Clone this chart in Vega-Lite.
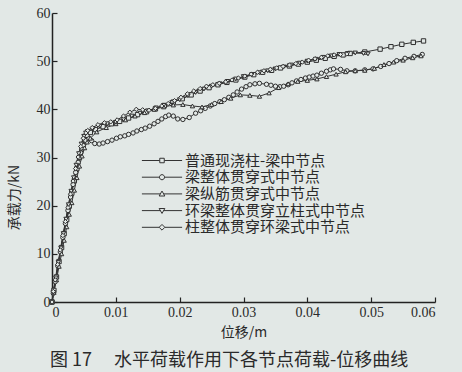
{
  "$schema": "https://vega.github.io/schema/vega-lite/v6.json",
  "width": 383,
  "height": 289,
  "autosize": "none",
  "padding": {"left": 52, "top": 13, "right": 27, "bottom": 70},
  "background": "#e2e8e6",
  "config": {"view": {"stroke": null}, "font": "Liberation Serif"},
  "title": {
    "text": "图 17 \u3000水平荷载作用下各节点荷载-位移曲线",
    "orient": "bottom",
    "anchor": "start",
    "frame": "group",
    "font": "Noto Sans CJK SC",
    "fontSize": 18,
    "fontWeight": "normal",
    "color": "#2a2a2a",
    "offset": 13,
    "dx": -2
  },
  "datasets": {
    "curves": [
      {"s":"普通现浇柱-梁中节点","x":0,"y":0},{"s":"普通现浇柱-梁中节点","x":0.0003,"y":2.4},{"s":"普通现浇柱-梁中节点","x":0.0007,"y":5.2},{"s":"普通现浇柱-梁中节点","x":0.0011,"y":8.4},{"s":"普通现浇柱-梁中节点","x":0.0015,"y":11.3},{"s":"普通现浇柱-梁中节点","x":0.0019,"y":14.2},{"s":"普通现浇柱-梁中节点","x":0.0023,"y":17.1},{"s":"普通现浇柱-梁中节点","x":0.0027,"y":19.9},{"s":"普通现浇柱-梁中节点","x":0.0031,"y":22.6},{"s":"普通现浇柱-梁中节点","x":0.0035,"y":25.2},{"s":"普通现浇柱-梁中节点","x":0.0039,"y":27.7},{"s":"普通现浇柱-梁中节点","x":0.0043,"y":30.0},{"s":"普通现浇柱-梁中节点","x":0.0047,"y":32.0},{"s":"普通现浇柱-梁中节点","x":0.0051,"y":33.7},{"s":"普通现浇柱-梁中节点","x":0.0055,"y":34.6},{"s":"普通现浇柱-梁中节点","x":0.0060,"y":35.2},{"s":"普通现浇柱-梁中节点","x":0.0068,"y":35.8},{"s":"普通现浇柱-梁中节点","x":0.0080,"y":36.4},{"s":"普通现浇柱-梁中节点","x":0.0093,"y":37.0},{"s":"普通现浇柱-梁中节点","x":0.0106,"y":37.5},{"s":"普通现浇柱-梁中节点","x":0.0120,"y":38.2},{"s":"普通现浇柱-梁中节点","x":0.0134,"y":38.9},{"s":"普通现浇柱-梁中节点","x":0.0148,"y":39.5},{"s":"普通现浇柱-梁中节点","x":0.0162,"y":40.1},{"s":"普通现浇柱-梁中节点","x":0.0176,"y":40.8},{"s":"普通现浇柱-梁中节点","x":0.0190,"y":41.5},{"s":"普通现浇柱-梁中节点","x":0.0204,"y":42.2},{"s":"普通现浇柱-梁中节点","x":0.0218,"y":43.0},{"s":"普通现浇柱-梁中节点","x":0.0232,"y":43.8},{"s":"普通现浇柱-梁中节点","x":0.0246,"y":44.5},{"s":"普通现浇柱-梁中节点","x":0.0260,"y":45.1},{"s":"普通现浇柱-梁中节点","x":0.0274,"y":45.6},{"s":"普通现浇柱-梁中节点","x":0.0288,"y":46.1},{"s":"普通现浇柱-梁中节点","x":0.0302,"y":46.7},{"s":"普通现浇柱-梁中节点","x":0.0316,"y":47.2},{"s":"普通现浇柱-梁中节点","x":0.0330,"y":47.7},{"s":"普通现浇柱-梁中节点","x":0.0344,"y":48.1},{"s":"普通现浇柱-梁中节点","x":0.0358,"y":48.6},{"s":"普通现浇柱-梁中节点","x":0.0372,"y":49.0},{"s":"普通现浇柱-梁中节点","x":0.0386,"y":49.4},{"s":"普通现浇柱-梁中节点","x":0.0400,"y":49.8},{"s":"普通现浇柱-梁中节点","x":0.0414,"y":50.2},{"s":"普通现浇柱-梁中节点","x":0.0428,"y":50.6},{"s":"普通现浇柱-梁中节点","x":0.0442,"y":51.0},{"s":"普通现浇柱-梁中节点","x":0.0456,"y":51.3},{"s":"普通现浇柱-梁中节点","x":0.0467,"y":51.6},{"s":"普通现浇柱-梁中节点","x":0.0490,"y":51.9},{"s":"普通现浇柱-梁中节点","x":0.0514,"y":52.5},{"s":"普通现浇柱-梁中节点","x":0.0531,"y":53.0},{"s":"普通现浇柱-梁中节点","x":0.0548,"y":53.5},{"s":"普通现浇柱-梁中节点","x":0.0566,"y":53.9},{"s":"普通现浇柱-梁中节点","x":0.0582,"y":54.2},

      {"s":"梁整体贯穿式中节点","x":0,"y":0},{"s":"梁整体贯穿式中节点","x":0.0002,"y":1.8},{"s":"梁整体贯穿式中节点","x":0.0005,"y":4.2},{"s":"梁整体贯穿式中节点","x":0.0009,"y":7.5},{"s":"梁整体贯穿式中节点","x":0.0013,"y":10.4},{"s":"梁整体贯穿式中节点","x":0.0017,"y":13.4},{"s":"梁整体贯穿式中节点","x":0.0021,"y":16.3},{"s":"梁整体贯穿式中节点","x":0.0025,"y":19.0},{"s":"梁整体贯穿式中节点","x":0.0029,"y":21.8},{"s":"梁整体贯穿式中节点","x":0.0033,"y":24.4},{"s":"梁整体贯穿式中节点","x":0.0037,"y":26.9},{"s":"梁整体贯穿式中节点","x":0.0041,"y":29.0},{"s":"梁整体贯穿式中节点","x":0.0045,"y":31.0},{"s":"梁整体贯穿式中节点","x":0.0049,"y":32.5},{"s":"梁整体贯穿式中节点","x":0.0053,"y":33.5},{"s":"梁整体贯穿式中节点","x":0.0058,"y":33.9},{"s":"梁整体贯穿式中节点","x":0.0062,"y":33.5},{"s":"梁整体贯穿式中节点","x":0.0067,"y":32.9},{"s":"梁整体贯穿式中节点","x":0.0074,"y":32.8},{"s":"梁整体贯穿式中节点","x":0.0080,"y":33.0},{"s":"梁整体贯穿式中节点","x":0.0087,"y":33.3},{"s":"梁整体贯穿式中节点","x":0.0094,"y":33.6},{"s":"梁整体贯穿式中节点","x":0.0101,"y":34.0},{"s":"梁整体贯穿式中节点","x":0.0107,"y":34.3},{"s":"梁整体贯穿式中节点","x":0.0114,"y":34.5},{"s":"梁整体贯穿式中节点","x":0.0120,"y":34.8},{"s":"梁整体贯穿式中节点","x":0.0127,"y":35.1},{"s":"梁整体贯穿式中节点","x":0.0133,"y":35.5},{"s":"梁整体贯穿式中节点","x":0.0140,"y":35.8},{"s":"梁整体贯穿式中节点","x":0.0146,"y":36.1},{"s":"梁整体贯穿式中节点","x":0.0153,"y":36.5},{"s":"梁整体贯穿式中节点","x":0.0160,"y":37.0},{"s":"梁整体贯穿式中节点","x":0.0166,"y":37.5},{"s":"梁整体贯穿式中节点","x":0.0172,"y":38.0},{"s":"梁整体贯穿式中节点","x":0.0178,"y":38.5},{"s":"梁整体贯穿式中节点","x":0.0183,"y":38.8},{"s":"梁整体贯穿式中节点","x":0.0190,"y":38.6},{"s":"梁整体贯穿式中节点","x":0.0197,"y":38.0},{"s":"梁整体贯穿式中节点","x":0.0205,"y":37.9},{"s":"梁整体贯穿式中节点","x":0.0215,"y":38.3},{"s":"梁整体贯穿式中节点","x":0.0225,"y":39.2},{"s":"梁整体贯穿式中节点","x":0.0233,"y":39.7},{"s":"梁整体贯穿式中节点","x":0.0240,"y":40.2},{"s":"梁整体贯穿式中节点","x":0.0248,"y":40.7},{"s":"梁整体贯穿式中节点","x":0.0255,"y":41.2},{"s":"梁整体贯穿式中节点","x":0.0263,"y":41.6},{"s":"梁整体贯穿式中节点","x":0.0270,"y":42.0},{"s":"梁整体贯穿式中节点","x":0.0277,"y":42.5},{"s":"梁整体贯穿式中节点","x":0.0284,"y":43.0},{"s":"梁整体贯穿式中节点","x":0.0290,"y":43.6},{"s":"梁整体贯穿式中节点","x":0.0297,"y":44.2},{"s":"梁整体贯穿式中节点","x":0.0304,"y":44.7},{"s":"梁整体贯穿式中节点","x":0.0310,"y":45.1},{"s":"梁整体贯穿式中节点","x":0.0318,"y":45.3},{"s":"梁整体贯穿式中节点","x":0.0325,"y":45.4},{"s":"梁整体贯穿式中节点","x":0.0336,"y":45.2},{"s":"梁整体贯穿式中节点","x":0.0343,"y":45.0},{"s":"梁整体贯穿式中节点","x":0.0350,"y":44.8},{"s":"梁整体贯穿式中节点","x":0.0357,"y":44.7},{"s":"梁整体贯穿式中节点","x":0.0363,"y":44.8},{"s":"梁整体贯穿式中节点","x":0.0370,"y":45.1},{"s":"梁整体贯穿式中节点","x":0.0376,"y":45.5},{"s":"梁整体贯穿式中节点","x":0.0383,"y":45.9},{"s":"梁整体贯穿式中节点","x":0.0390,"y":46.2},{"s":"梁整体贯穿式中节点","x":0.0397,"y":46.5},{"s":"梁整体贯穿式中节点","x":0.0403,"y":46.7},{"s":"梁整体贯穿式中节点","x":0.0409,"y":46.9},{"s":"梁整体贯穿式中节点","x":0.0415,"y":47.1},{"s":"梁整体贯穿式中节点","x":0.0422,"y":47.5},{"s":"梁整体贯穿式中节点","x":0.0430,"y":47.9},{"s":"梁整体贯穿式中节点","x":0.0436,"y":48.2},{"s":"梁整体贯穿式中节点","x":0.0441,"y":48.4},{"s":"梁整体贯穿式中节点","x":0.0452,"y":48.3},{"s":"梁整体贯穿式中节点","x":0.0462,"y":48.0},{"s":"梁整体贯穿式中节点","x":0.0475,"y":48.0},{"s":"梁整体贯穿式中节点","x":0.0490,"y":48.2},{"s":"梁整体贯穿式中节点","x":0.0503,"y":48.4},{"s":"梁整体贯穿式中节点","x":0.0515,"y":48.9},{"s":"梁整体贯穿式中节点","x":0.0528,"y":49.5},{"s":"梁整体贯穿式中节点","x":0.0540,"y":50.1},{"s":"梁整体贯穿式中节点","x":0.0553,"y":50.6},{"s":"梁整体贯穿式中节点","x":0.0567,"y":51.0},{"s":"梁整体贯穿式中节点","x":0.0580,"y":51.4},

      {"s":"梁纵筋贯穿式中节点","x":0,"y":0},{"s":"梁纵筋贯穿式中节点","x":0.0003,"y":2.0},{"s":"梁纵筋贯穿式中节点","x":0.0007,"y":4.6},{"s":"梁纵筋贯穿式中节点","x":0.0011,"y":7.4},{"s":"梁纵筋贯穿式中节点","x":0.0015,"y":10.0},{"s":"梁纵筋贯穿式中节点","x":0.0019,"y":12.8},{"s":"梁纵筋贯穿式中节点","x":0.0023,"y":15.6},{"s":"梁纵筋贯穿式中节点","x":0.0027,"y":18.2},{"s":"梁纵筋贯穿式中节点","x":0.0031,"y":20.6},{"s":"梁纵筋贯穿式中节点","x":0.0035,"y":23.2},{"s":"梁纵筋贯穿式中节点","x":0.0039,"y":25.8},{"s":"梁纵筋贯穿式中节点","x":0.0043,"y":28.2},{"s":"梁纵筋贯穿式中节点","x":0.0047,"y":30.3},{"s":"梁纵筋贯穿式中节点","x":0.0051,"y":32.0},{"s":"梁纵筋贯穿式中节点","x":0.0055,"y":33.2},{"s":"梁纵筋贯穿式中节点","x":0.0060,"y":34.0},{"s":"梁纵筋贯穿式中节点","x":0.0070,"y":35.3},{"s":"梁纵筋贯穿式中节点","x":0.0085,"y":36.2},{"s":"梁纵筋贯穿式中节点","x":0.0100,"y":37.0},{"s":"梁纵筋贯穿式中节点","x":0.0115,"y":37.8},{"s":"梁纵筋贯穿式中节点","x":0.0130,"y":38.6},{"s":"梁纵筋贯穿式中节点","x":0.0145,"y":39.3},{"s":"梁纵筋贯穿式中节点","x":0.0160,"y":40.0},{"s":"梁纵筋贯穿式中节点","x":0.0175,"y":40.5},{"s":"梁纵筋贯穿式中节点","x":0.0190,"y":40.9},{"s":"梁纵筋贯穿式中节点","x":0.0205,"y":41.0},{"s":"梁纵筋贯穿式中节点","x":0.0220,"y":40.7},{"s":"梁纵筋贯穿式中节点","x":0.0235,"y":40.5},{"s":"梁纵筋贯穿式中节点","x":0.0250,"y":41.0},{"s":"梁纵筋贯穿式中节点","x":0.0265,"y":41.6},{"s":"梁纵筋贯穿式中节点","x":0.0280,"y":42.3},{"s":"梁纵筋贯穿式中节点","x":0.0295,"y":43.0},{"s":"梁纵筋贯穿式中节点","x":0.0310,"y":42.9},{"s":"梁纵筋贯穿式中节点","x":0.0325,"y":42.7},{"s":"梁纵筋贯穿式中节点","x":0.0340,"y":43.4},{"s":"梁纵筋贯穿式中节点","x":0.0355,"y":44.5},{"s":"梁纵筋贯穿式中节点","x":0.0370,"y":45.3},{"s":"梁纵筋贯穿式中节点","x":0.0385,"y":45.8},{"s":"梁纵筋贯穿式中节点","x":0.0400,"y":46.0},{"s":"梁纵筋贯穿式中节点","x":0.0415,"y":46.3},{"s":"梁纵筋贯穿式中节点","x":0.0430,"y":46.8},{"s":"梁纵筋贯穿式中节点","x":0.0445,"y":47.3},{"s":"梁纵筋贯穿式中节点","x":0.0460,"y":47.8},{"s":"梁纵筋贯穿式中节点","x":0.0475,"y":48.0},{"s":"梁纵筋贯穿式中节点","x":0.0490,"y":48.1},{"s":"梁纵筋贯穿式中节点","x":0.0505,"y":48.5},{"s":"梁纵筋贯穿式中节点","x":0.0520,"y":49.3},{"s":"梁纵筋贯穿式中节点","x":0.0535,"y":49.8},{"s":"梁纵筋贯穿式中节点","x":0.0550,"y":50.2},{"s":"梁纵筋贯穿式中节点","x":0.0565,"y":50.7},{"s":"梁纵筋贯穿式中节点","x":0.0578,"y":51.1},

      {"s":"环梁整体贯穿立柱式中节点","x":0,"y":0},{"s":"环梁整体贯穿立柱式中节点","x":0.0002,"y":2.0},{"s":"环梁整体贯穿立柱式中节点","x":0.0006,"y":5.0},{"s":"环梁整体贯穿立柱式中节点","x":0.0010,"y":8.2},{"s":"环梁整体贯穿立柱式中节点","x":0.0014,"y":11.2},{"s":"环梁整体贯穿立柱式中节点","x":0.0018,"y":14.2},{"s":"环梁整体贯穿立柱式中节点","x":0.0022,"y":17.2},{"s":"环梁整体贯穿立柱式中节点","x":0.0026,"y":20.2},{"s":"环梁整体贯穿立柱式中节点","x":0.0030,"y":23.0},{"s":"环梁整体贯穿立柱式中节点","x":0.0034,"y":25.8},{"s":"环梁整体贯穿立柱式中节点","x":0.0038,"y":28.4},{"s":"环梁整体贯穿立柱式中节点","x":0.0042,"y":30.8},{"s":"环梁整体贯穿立柱式中节点","x":0.0046,"y":32.8},{"s":"环梁整体贯穿立柱式中节点","x":0.0050,"y":34.4},{"s":"环梁整体贯穿立柱式中节点","x":0.0053,"y":35.1},{"s":"环梁整体贯穿立柱式中节点","x":0.0056,"y":35.4},{"s":"环梁整体贯穿立柱式中节点","x":0.0064,"y":35.9},{"s":"环梁整体贯穿立柱式中节点","x":0.0075,"y":36.5},{"s":"环梁整体贯穿立柱式中节点","x":0.0087,"y":37.0},{"s":"环梁整体贯穿立柱式中节点","x":0.0100,"y":37.3},{"s":"环梁整体贯穿立柱式中节点","x":0.0112,"y":37.9},{"s":"环梁整体贯穿立柱式中节点","x":0.0125,"y":38.6},{"s":"环梁整体贯穿立柱式中节点","x":0.0138,"y":39.2},{"s":"环梁整体贯穿立柱式中节点","x":0.0150,"y":39.7},{"s":"环梁整体贯穿立柱式中节点","x":0.0163,"y":40.3},{"s":"环梁整体贯穿立柱式中节点","x":0.0175,"y":40.8},{"s":"环梁整体贯穿立柱式中节点","x":0.0188,"y":41.4},{"s":"环梁整体贯穿立柱式中节点","x":0.0200,"y":42.0},{"s":"环梁整体贯穿立柱式中节点","x":0.0213,"y":42.8},{"s":"环梁整体贯穿立柱式中节点","x":0.0225,"y":43.5},{"s":"环梁整体贯穿立柱式中节点","x":0.0238,"y":44.2},{"s":"环梁整体贯穿立柱式中节点","x":0.0250,"y":44.8},{"s":"环梁整体贯穿立柱式中节点","x":0.0263,"y":45.3},{"s":"环梁整体贯穿立柱式中节点","x":0.0275,"y":45.8},{"s":"环梁整体贯穿立柱式中节点","x":0.0288,"y":46.3},{"s":"环梁整体贯穿立柱式中节点","x":0.0300,"y":46.8},{"s":"环梁整体贯穿立柱式中节点","x":0.0313,"y":47.2},{"s":"环梁整体贯穿立柱式中节点","x":0.0325,"y":47.6},{"s":"环梁整体贯穿立柱式中节点","x":0.0338,"y":48.0},{"s":"环梁整体贯穿立柱式中节点","x":0.0350,"y":48.4},{"s":"环梁整体贯穿立柱式中节点","x":0.0363,"y":48.8},{"s":"环梁整体贯穿立柱式中节点","x":0.0375,"y":49.2},{"s":"环梁整体贯穿立柱式中节点","x":0.0388,"y":49.6},{"s":"环梁整体贯穿立柱式中节点","x":0.0400,"y":50.0},{"s":"环梁整体贯穿立柱式中节点","x":0.0413,"y":50.4},{"s":"环梁整体贯穿立柱式中节点","x":0.0425,"y":50.8},{"s":"环梁整体贯穿立柱式中节点","x":0.0438,"y":51.1},{"s":"环梁整体贯穿立柱式中节点","x":0.0450,"y":51.4},{"s":"环梁整体贯穿立柱式中节点","x":0.0463,"y":51.6},{"s":"环梁整体贯穿立柱式中节点","x":0.0475,"y":51.7},{"s":"环梁整体贯穿立柱式中节点","x":0.0488,"y":51.6},{"s":"环梁整体贯穿立柱式中节点","x":0.0495,"y":51.5},

      {"s":"柱整体贯穿环梁式中节点","x":0,"y":0},{"s":"柱整体贯穿环梁式中节点","x":0.0002,"y":2.2},{"s":"柱整体贯穿环梁式中节点","x":0.0005,"y":4.6},{"s":"柱整体贯穿环梁式中节点","x":0.0009,"y":7.8},{"s":"柱整体贯穿环梁式中节点","x":0.0013,"y":10.8},{"s":"柱整体贯穿环梁式中节点","x":0.0017,"y":13.8},{"s":"柱整体贯穿环梁式中节点","x":0.0021,"y":16.7},{"s":"柱整体贯穿环梁式中节点","x":0.0025,"y":19.6},{"s":"柱整体贯穿环梁式中节点","x":0.0029,"y":22.4},{"s":"柱整体贯穿环梁式中节点","x":0.0033,"y":25.1},{"s":"柱整体贯穿环梁式中节点","x":0.0037,"y":27.7},{"s":"柱整体贯穿环梁式中节点","x":0.0041,"y":30.1},{"s":"柱整体贯穿环梁式中节点","x":0.0045,"y":32.3},{"s":"柱整体贯穿环梁式中节点","x":0.0049,"y":34.0},{"s":"柱整体贯穿环梁式中节点","x":0.0053,"y":35.1},{"s":"柱整体贯穿环梁式中节点","x":0.0056,"y":35.6},{"s":"柱整体贯穿环梁式中节点","x":0.0063,"y":36.2},{"s":"柱整体贯穿环梁式中节点","x":0.0072,"y":36.8},{"s":"柱整体贯穿环梁式中节点","x":0.0082,"y":37.2},{"s":"柱整体贯穿环梁式中节点","x":0.0092,"y":37.4},{"s":"柱整体贯穿环梁式中节点","x":0.0102,"y":37.8},{"s":"柱整体贯穿环梁式中节点","x":0.0112,"y":38.6},{"s":"柱整体贯穿环梁式中节点","x":0.0122,"y":39.4},{"s":"柱整体贯穿环梁式中节点","x":0.0132,"y":40.0},{"s":"柱整体贯穿环梁式中节点","x":0.0142,"y":39.9},{"s":"柱整体贯穿环梁式中节点","x":0.0152,"y":39.8},{"s":"柱整体贯穿环梁式中节点","x":0.0162,"y":40.2},{"s":"柱整体贯穿环梁式中节点","x":0.0172,"y":40.7},{"s":"柱整体贯穿环梁式中节点","x":0.0182,"y":41.2},{"s":"柱整体贯穿环梁式中节点","x":0.0192,"y":41.8},{"s":"柱整体贯穿环梁式中节点","x":0.0202,"y":42.5},{"s":"柱整体贯穿环梁式中节点","x":0.0212,"y":43.2},{"s":"柱整体贯穿环梁式中节点","x":0.0222,"y":43.8},{"s":"柱整体贯穿环梁式中节点","x":0.0232,"y":44.3},{"s":"柱整体贯穿环梁式中节点","x":0.0242,"y":44.8},{"s":"柱整体贯穿环梁式中节点","x":0.0252,"y":45.1},{"s":"柱整体贯穿环梁式中节点","x":0.0262,"y":45.4},{"s":"柱整体贯穿环梁式中节点","x":0.0272,"y":45.7},{"s":"柱整体贯穿环梁式中节点","x":0.0282,"y":46.1},{"s":"柱整体贯穿环梁式中节点","x":0.0292,"y":46.5},{"s":"柱整体贯穿环梁式中节点","x":0.0302,"y":46.9},{"s":"柱整体贯穿环梁式中节点","x":0.0312,"y":47.3},{"s":"柱整体贯穿环梁式中节点","x":0.0322,"y":47.7},{"s":"柱整体贯穿环梁式中节点","x":0.0332,"y":48.0},{"s":"柱整体贯穿环梁式中节点","x":0.0342,"y":48.3},{"s":"柱整体贯穿环梁式中节点","x":0.0352,"y":48.6},{"s":"柱整体贯穿环梁式中节点","x":0.0362,"y":48.9},{"s":"柱整体贯穿环梁式中节点","x":0.0372,"y":49.2},{"s":"柱整体贯穿环梁式中节点","x":0.0382,"y":49.5},{"s":"柱整体贯穿环梁式中节点","x":0.0392,"y":49.8},{"s":"柱整体贯穿环梁式中节点","x":0.0402,"y":50.2},{"s":"柱整体贯穿环梁式中节点","x":0.0412,"y":50.5},{"s":"柱整体贯穿环梁式中节点","x":0.0422,"y":50.8},{"s":"柱整体贯穿环梁式中节点","x":0.0432,"y":51.1},{"s":"柱整体贯穿环梁式中节点","x":0.0442,"y":51.3},{"s":"柱整体贯穿环梁式中节点","x":0.0452,"y":51.4},{"s":"柱整体贯穿环梁式中节点","x":0.0462,"y":51.5}
    ]
  },
  "data": {"name": "curves"},
  "encoding": {
    "x": {
      "field": "x", "type": "quantitative",
      "scale": {"domain": [0, 0.06], "nice": false, "zero": true},
      "axis": {
        "title": "位移/m",
        "values": [0, 0.01, 0.02, 0.03, 0.04, 0.05, 0.06],
        "format": ".2~f",
        "grid": false,
        "tickSize": -5,
        "tickColor": "#222",
        "tickWidth": 1.2,
        "domainColor": "#222",
        "domainWidth": 1.5,
        "labelFont": "Liberation Serif",
        "labelFontSize": 14,
        "labelColor": "#2a2a2a",
        "labelPadding": 8,
        "titleFont": "Noto Sans CJK SC",
        "titleFontSize": 14,
        "titleFontWeight": "normal",
        "titleColor": "#2a2a2a",
        "titlePadding": 6
      }
    },
    "y": {
      "field": "y", "type": "quantitative",
      "scale": {"domain": [0, 60], "nice": false},
      "axis": {
        "title": "承载力/kN",
        "values": [0, 10, 20, 30, 40, 50, 60],
        "grid": false,
        "tickSize": -5,
        "tickColor": "#222",
        "tickWidth": 1.2,
        "domainColor": "#222",
        "domainWidth": 1.5,
        "labelFont": "Liberation Serif",
        "labelFontSize": 14,
        "labelColor": "#2a2a2a",
        "labelPadding": 7,
        "titleFont": "Noto Sans CJK SC",
        "titleFontSize": 14,
        "titleFontWeight": "normal",
        "titleColor": "#2a2a2a",
        "titleX": -31,
        "titleY": 184
      }
    }
  },
  "resolve": {"scale": {"shape": "independent"}, "legend": {"shape": "independent"}},
  "layer": [
    {
      "mark": {"type": "line", "stroke": "#333", "strokeWidth": 1},
      "encoding": {"detail": {"field": "s", "type": "nominal"}}
    },
    {
      "mark": {"type": "point", "filled": true, "fill": "#e2e8e6", "stroke": "#2e2e2e", "strokeWidth": 1, "size": 19, "opacity": 1},
      "encoding": {
        "shape": {
          "field": "s", "type": "nominal",
          "scale": {
            "domain": ["普通现浇柱-梁中节点", "梁整体贯穿式中节点", "梁纵筋贯穿式中节点", "环梁整体贯穿立柱式中节点", "柱整体贯穿环梁式中节点"],
            "range": ["square", "circle", "triangle-up", "triangle-down", "diamond"]
          },
          "legend": null
        }
      }
    },
    {
      "transform": [{"filter": "false"}],
      "mark": {"type": "point", "filled": false, "stroke": "#333", "strokeWidth": 1, "size": 36, "opacity": 1},
      "encoding": {
        "shape": {
          "field": "s", "type": "nominal",
          "scale": {
            "domain": ["普通现浇柱-梁中节点", "梁整体贯穿式中节点", "梁纵筋贯穿式中节点", "环梁整体贯穿立柱式中节点", "柱整体贯穿环梁式中节点"],
            "range": [
              "M-6.7,0H-0.8M0.8,0H6.7M-0.75,-0.75H0.75V0.75H-0.75Z",
              "M-6.7,0H-0.85M0.85,0H6.7M-0.85,0A0.85,0.85,0,1,0,0.85,0A0.85,0.85,0,1,0,-0.85,0Z",
              "M-6.7,0H-0.55M0.55,0H6.7M0,-0.95L0.95,0.7H-0.95Z",
              "M-6.7,0H-0.55M0.55,0H6.7M0,0.95L0.95,-0.7H-0.95Z",
              "M-6.7,0H-0.95M0.95,0H6.7M0,-0.95L0.95,0L0,0.95L-0.95,0Z"
            ]
          },
          "legend": {
            "orient": "none",
            "legendX": 102.5,
            "legendY": 140,
            "title": null,
            "symbolSize": 36,
            "symbolStrokeColor": "#333",
            "symbolStrokeWidth": 1,
            "labelFont": "Noto Sans CJK SC",
            "labelFontSize": 15,
            "labelColor": "#2a2a2a",
            "labelOffset": 15.5,
            "labelLimit": 400,
            "rowPadding": 0.7
          }
        }
      }
    }
  ]
}
